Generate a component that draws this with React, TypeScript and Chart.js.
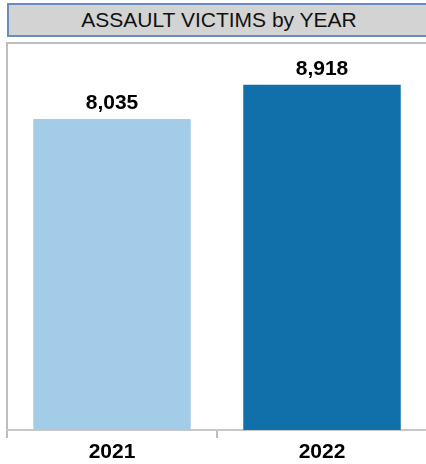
import React, { useEffect, useRef } from "react";
import { Chart, registerables } from "chart.js";

Chart.register(...registerables);

const categories = ["2021", "2022"];
const victims = [8035, 8918];
const barColors = ["#a3cce9", "#1170aa"];
const yMax = 10000;

const valueLabels = {
  id: "valueLabels",
  afterDatasetsDraw(chart: any) {
    const ctx = chart.ctx;
    const meta = chart.getDatasetMeta(0);
    ctx.save();
    ctx.font = "bold 21px 'Liberation Sans', Arial, sans-serif";
    ctx.fillStyle = "#000";
    ctx.textAlign = "center";
    ctx.textBaseline = "alphabetic";
    meta.data.forEach((bar: any, i: number) => {
      ctx.fillText(victims[i].toLocaleString("en-US"), bar.x, bar.y - 10);
    });
    ctx.restore();
  },
};

const frameLines = {
  id: "frameLines",
  beforeDraw(chart: any) {
    const { ctx, chartArea } = chart;
    ctx.save();
    ctx.strokeStyle = "#bdbdbd";
    ctx.lineWidth = 2;
    ctx.beginPath();
    ctx.moveTo(chartArea.left, chartArea.bottom);
    ctx.lineTo(chartArea.left, chartArea.top);
    ctx.lineTo(chart.width, chartArea.top);
    ctx.stroke();
    ctx.restore();
  },
};

export default function App() {
  const ref = useRef<HTMLCanvasElement>(null);
  useEffect(() => {
    document.body.style.margin = "0";
    document.body.style.overflow = "hidden";
    const chart = new Chart(ref.current!, {
      type: "bar",
      data: {
        labels: categories,
        datasets: [
          {
            data: victims,
            backgroundColor: barColors,
            barPercentage: 0.75,
            categoryPercentage: 1,
          },
        ],
      },
      options: {
        animation: false,
        responsive: false,
        maintainAspectRatio: false,
        layout: { padding: { left: 7, top: 43, right: 13, bottom: 0 } },
        plugins: { legend: { display: false }, tooltip: { enabled: false } },
        scales: {
          y: { display: false, min: 0, max: yMax },
          x: {
            afterFit(scale: any) {
              scale.height = 34;
            },
            grid: {
              offset: true,
              drawOnChartArea: false,
              drawTicks: true,
              tickLength: 8,
              color: "#bdbdbd",
              lineWidth: 2,
            },
            border: { display: true, color: "#c8c8c8", width: 2 },
            ticks: {
              color: "#000",
              padding: 2,
              font: { family: "'Liberation Sans', Arial, sans-serif", size: 21, weight: "bold" },
            },
          },
        },
      },
      plugins: [valueLabels, frameLines],
    });
    return () => chart.destroy();
  }, []);

  return (
    <div style={{ position: "relative", width: 426, height: 464, overflow: "hidden", background: "#fff" }}>
      <div
        style={{
          position: "absolute",
          left: 7,
          top: 3,
          width: 430,
          height: 30,
          background: "#d3d3d3",
          border: "2px solid #6a8cbc",
          boxSizing: "content-box",
          fontFamily: "'Liberation Sans', Arial, sans-serif",
          fontSize: 21,
          color: "#111",
        }}
      >
        <span
          style={{
            position: "absolute",
            left: 0,
            width: 420,
            textAlign: "center",
            top: 3,
            lineHeight: "24px",
          }}
        >
          ASSAULT VICTIMS by YEAR
        </span>
      </div>
      <canvas
        ref={ref}
        width={440}
        height={464}
        style={{ position: "absolute", left: 0, top: 0, width: 440, height: 464 }}
      />
    </div>
  );
}
